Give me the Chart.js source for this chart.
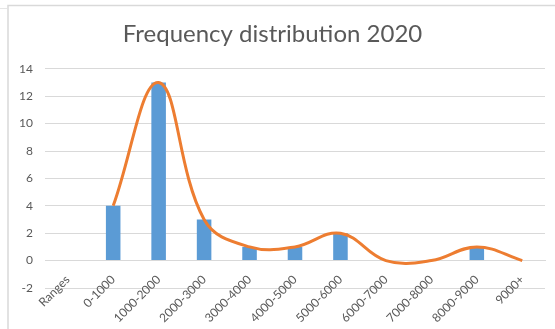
<!DOCTYPE html>
<html>
<head>
<meta charset="utf-8">
<script src="https://cdn.jsdelivr.net/npm/chart.js@4.4.1/dist/chart.umd.min.js"></script>
<style>
  html, body { margin: 0; padding: 0; background: #ffffff; }
  #wrap { width: 555px; height: 329px; position: relative; }
</style>
</head>
<body>
<div id="wrap"><canvas id="chart" width="555" height="329"></canvas></div>
<script>
// Income ranges and how many entries fall in each
const categories = ['Ranges', '0-1000', '1000-2000', '2000-3000', '3000-4000', '4000-5000',
                    '5000-6000', '6000-7000', '7000-8000', '8000-9000', '9000+'];
const frequencies = [null, 4, 13, 3, 1, 1, 2, 0, 0, 1, 0];
const yTicks = [-2, 0, 2, 4, 6, 8, 10, 12, 14];

const FONT = "Lato, 'Open Sans', sans-serif";
const TEXT = '#595959';
const GRID = '#d9d9d9';

// Thin frame around the chart object
const framePlugin = {
  id: 'frame',
  beforeDraw(chart) {
    const c = chart.ctx;
    c.save();
    c.strokeStyle = '#d9d9d9';
    c.lineWidth = 1.5;
    c.beginPath();
    c.moveTo(8, 329); c.lineTo(8, 5.5); c.lineTo(555, 5.5);
    c.stroke();
    c.strokeStyle = '#e6e6e6';
    c.lineWidth = 1;
    c.beginPath();
    c.moveTo(0, 8.5); c.lineTo(7, 8.5);
    c.stroke();
    c.restore();
  }
};

new Chart(document.getElementById('chart'), {
  data: {
    labels: categories,
    datasets: [
      {
        type: 'line',
        data: frequencies,
        borderColor: '#ED7D31',
        borderWidth: 3,
        pointRadius: 0,
        tension: 0.4,
        fill: false,
        order: 0
      },
      {
        type: 'bar',
        data: frequencies,
        backgroundColor: '#5B9BD5',
        categoryPercentage: 1,
        barPercentage: 0.32,
        order: 1
      }
    ]
  },
  options: {
    responsive: false,
    animation: false,
    layout: { padding: { left: 0, right: 10, top: 0, bottom: 41 } },
    plugins: {
      legend: { display: false },
      tooltip: { enabled: false },
      title: {
        display: true,
        text: 'Frequency distribution 2020',
        color: TEXT,
        font: { family: FONT, size: 24, weight: 'normal', lineHeight: 1.2 },
        padding: { top: 20, bottom: 20 }
      }
    },
    scales: {
      x: {
        position: { y: 0 },
        grid: { display: false, drawTicks: false },
        border: { display: true, color: GRID, width: 1 },
        ticks: {
          color: TEXT,
          font: { family: FONT, size: 12 },
          minRotation: 45,
          maxRotation: 45,
          padding: 12,
          autoSkip: false
        }
      },
      y: {
        min: -2,
        max: 14,
        afterFit(scale) { scale.width = 45; },
        afterBuildTicks(scale) { scale.ticks = yTicks.map(v => ({ value: v })); },
        grid: { color: GRID, lineWidth: 1, drawTicks: false },
        border: { display: false },
        ticks: {
          color: TEXT,
          font: { family: FONT, size: 12 },
          padding: 12
        }
      }
    }
  },
  plugins: [framePlugin]
});
</script>
</body>
</html>
